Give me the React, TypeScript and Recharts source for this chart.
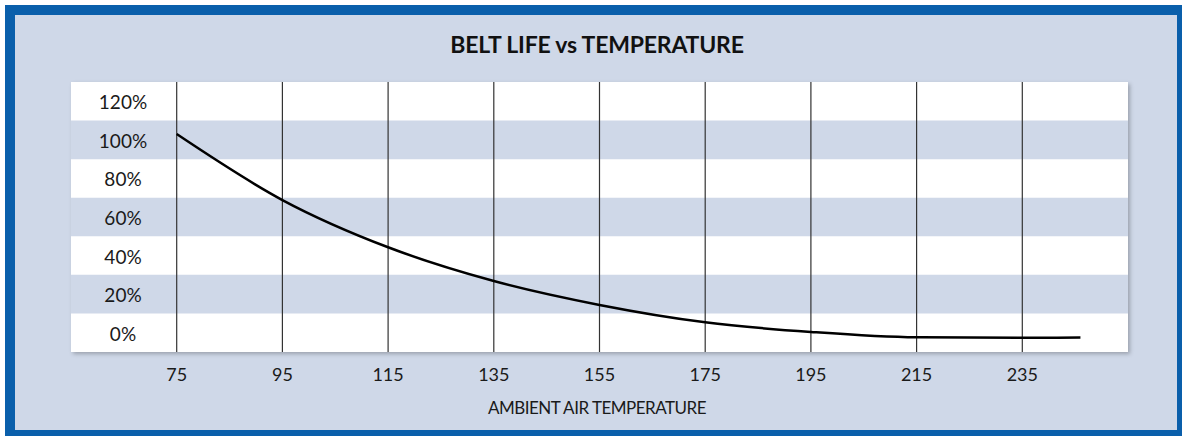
import {
  LineChart,
  Line,
  XAxis,
  YAxis,
  ReferenceArea,
  ReferenceLine,
} from "recharts";

const temperatures = [75, 95, 115, 135, 155, 175, 195, 215, 235, 246];
const beltLife = [103, 68.8, 44.3, 26.8, 14.4, 5.4, 0.4, -2.4, -2.6, -2.5];
const xTicks = [75, 95, 115, 135, 155, 175, 195, 215, 235];
const yTicks = [0, 20, 40, 60, 80, 100, 120];
const bands: [number, number][] = [
  [10, 30],
  [50, 70],
  [90, 110],
];

const data = temperatures.map((t, i) => ({ temp: t, life: beltLife[i] }));

const BG = "#cfd8e8";
const FONT = "Lato, 'Noto Sans', sans-serif";

// y labels sit inside the plot, left of the first grid line
const renderYTick = (props: any) => {
  const { y, payload } = props;
  return (
    <text
      x={123}
      y={y}
      dy={8}
      textAnchor="middle"
      fill="#1a1a1a"
      fontSize={19}
      fontFamily={FONT}
    >
      {payload.value}%
    </text>
  );
};

export default function App() {
  return (
    <div
      style={{
        position: "absolute",
        left: 0,
        top: 0,
        width: 1182,
        height: 436,
        background: "#fff",
        fontFamily: FONT,
        overflow: "hidden",
      }}
    >
      <div
        style={{
          position: "absolute",
          left: 5,
          top: 5,
          width: 1177,
          height: 431,
          background: "#0a5fab",
        }}
      />
      <div
        style={{
          position: "absolute",
          left: 15,
          top: 15,
          width: 1162,
          height: 415,
          background: BG,
        }}
      />
      <div
        style={{
          position: "absolute",
          left: 0,
          width: 1194,
          top: 30,
          textAlign: "center",
          fontWeight: 700,
          fontSize: 23,
          letterSpacing: -0.2,
          color: "#111",
        }}
      >
        BELT LIFE vs TEMPERATURE
      </div>
      <div
        style={{
          position: "absolute",
          left: 71,
          top: 82,
          width: 1057,
          height: 270,
          background: "#fff",
          boxShadow: "2px 2px 4px rgba(0,0,0,0.25)",
        }}
      />
      <div style={{ position: "absolute", left: 0, top: 0 }}>
        <LineChart
          width={1182}
          height={436}
          data={data}
          margin={{ top: 82, right: 54, bottom: 54, left: 70 }}
        >
          <XAxis
            dataKey="temp"
            type="number"
            domain={[55, 255]}
            ticks={xTicks}
            axisLine={false}
            tickLine={false}
            height={30}
            tick={{ fill: "#1a1a1a", fontSize: 18, fontFamily: FONT }}
            tickMargin={10}
          />
          <YAxis
            type="number"
            domain={[-10, 130]}
            ticks={yTicks}
            interval={0}
            width={1}
            axisLine={false}
            tickLine={false}
            tick={renderYTick}
          />
          {bands.map(([y1, y2]) => (
            <ReferenceArea
              key={y1}
              y1={y1}
              y2={y2}
              fill={BG}
              fillOpacity={1}
              stroke="none"
            />
          ))}
          {xTicks.map((t) => (
            <ReferenceLine key={t} x={t} stroke="#333" strokeWidth={1.2} />
          ))}
          <Line
            type="monotone"
            dataKey="life"
            stroke="#000"
            strokeWidth={2.5}
            dot={false}
            isAnimationActive={false}
          />
        </LineChart>
      </div>
      <div
        style={{
          position: "absolute",
          left: 0,
          width: 1194,
          top: 397,
          textAlign: "center",
          fontSize: 17,
          letterSpacing: -0.5,
          color: "#1a1a1a",
        }}
      >
        AMBIENT AIR TEMPERATURE
      </div>
    </div>
  );
}
